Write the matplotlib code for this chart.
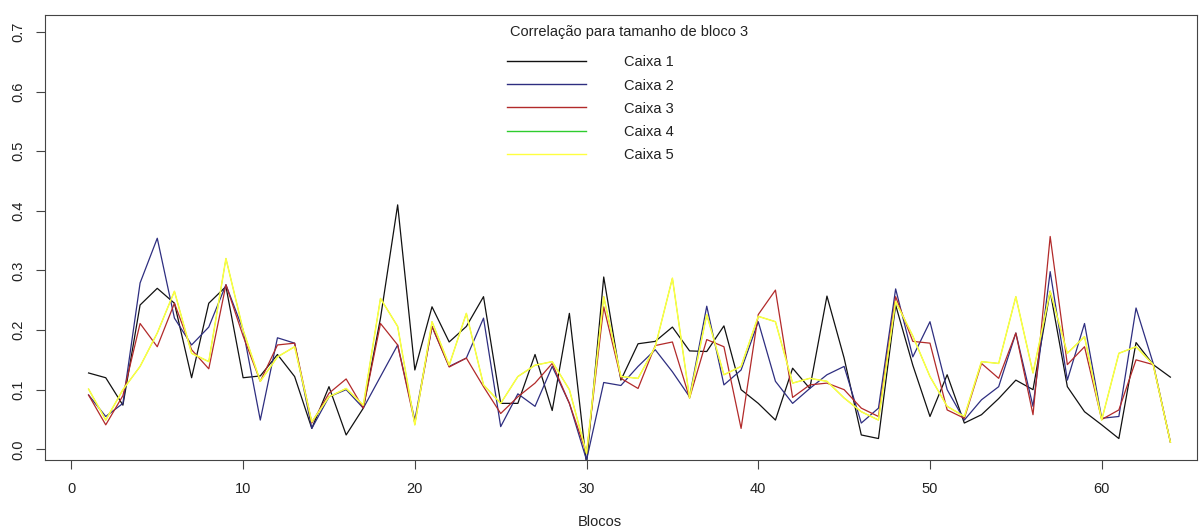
import matplotlib
matplotlib.use("Agg")
import matplotlib.pyplot as plt

plt.rcParams["font.family"] = ["Liberation Sans", "DejaVu Sans"]

blocos = list(range(1, 65))

caixa1 = [0.128, 0.120, 0.074, 0.242, 0.270, 0.245, 0.120, 0.245, 0.273, 0.120,
          0.123, 0.159, 0.122, 0.035, 0.105, 0.024, 0.069, 0.220, 0.410, 0.133,
          0.239, 0.180, 0.206, 0.256, 0.077, 0.077, 0.159, 0.065, 0.228, -0.025,
          0.289, 0.116, 0.177, 0.181, 0.205, 0.165, 0.164, 0.207, 0.100, 0.077,
          0.049, 0.136, 0.102, 0.257, 0.153, 0.024, 0.018, 0.242, 0.141, 0.055,
          0.125, 0.044, 0.058, 0.085, 0.116, 0.100, 0.265, 0.105, 0.063, 0.041,
          0.018, 0.179, 0.142, 0.121]

caixa2 = [0.091, 0.055, 0.077, 0.279, 0.354, 0.220, 0.175, 0.205, 0.276, 0.200,
          0.049, 0.187, 0.178, 0.035, 0.088, 0.100, 0.069, 0.122, 0.175, 0.049,
          0.206, 0.139, 0.153, 0.220, 0.038, 0.093, 0.072, 0.139, 0.077, -0.018,
          0.112, 0.107, 0.139, 0.167, 0.130, 0.088, 0.240, 0.108, 0.133, 0.214,
          0.114, 0.077, 0.102, 0.125, 0.139, 0.044, 0.069, 0.269, 0.155, 0.214,
          0.100, 0.049, 0.083, 0.105, 0.195, 0.072, 0.298, 0.116, 0.211, 0.052,
          0.055, 0.237, 0.144, 0.012]

caixa3 = [0.091, 0.041, 0.090, 0.211, 0.172, 0.245, 0.167, 0.135, 0.276, 0.190,
          0.114, 0.175, 0.178, 0.044, 0.094, 0.118, 0.069, 0.211, 0.175, 0.044,
          0.206, 0.138, 0.153, 0.105, 0.060, 0.088, 0.111, 0.144, 0.077, -0.007,
          0.239, 0.119, 0.102, 0.174, 0.180, 0.086, 0.184, 0.172, 0.035, 0.226,
          0.267, 0.087, 0.108, 0.111, 0.100, 0.069, 0.055, 0.256, 0.181, 0.178,
          0.066, 0.052, 0.144, 0.119, 0.195, 0.058, 0.357, 0.142, 0.172, 0.050,
          0.066, 0.150, 0.142, 0.012]

caixa5 = [0.101, 0.049, 0.100, 0.139, 0.195, 0.265, 0.161, 0.147, 0.320, 0.200,
          0.114, 0.155, 0.172, 0.046, 0.088, 0.102, 0.074, 0.253, 0.206, 0.041,
          0.214, 0.141, 0.228, 0.108, 0.077, 0.122, 0.141, 0.147, 0.100, -0.007,
          0.256, 0.122, 0.119, 0.172, 0.287, 0.086, 0.226, 0.125, 0.139, 0.223,
          0.214, 0.111, 0.119, 0.114, 0.086, 0.063, 0.049, 0.248, 0.190, 0.122,
          0.072, 0.055, 0.147, 0.144, 0.256, 0.128, 0.265, 0.161, 0.189, 0.049,
          0.161, 0.172, 0.142, 0.012]

# caixa 4 is not visible in the picture: it lies under caixa 5
caixa4 = list(caixa5)

series = [caixa1, caixa2, caixa3, caixa4, caixa5]
nomes = ["Caixa 1", "Caixa 2", "Caixa 3", "Caixa 4", "Caixa 5"]
cores = ["#111111", "#2e2e80", "#b22a2a", "#2ecc2e", "#ffff40"]
larguras = [0.9, 0.9, 0.9, 0.6, 1.1]

W, H = 1201, 532
fig = plt.figure(figsize=(W / 100, H / 100), dpi=100)
ax = fig.add_axes([45.3 / W, 1 - 460.3 / H, (1197 - 45.3) / W, (460.3 - 14.7) / H])

for y, nome, cor, lw in zip(series, nomes, cores, larguras):
    ax.plot(blocos, y, color=cor, lw=lw, label=nome)

ax.set_xlim(-1.52, 65.55)
ax.set_ylim(-0.0185, 0.729)
ax.set_xticks([0, 10, 20, 30, 40, 50, 60])
ax.set_yticks([0.0, 0.1, 0.2, 0.3, 0.4, 0.5, 0.6, 0.7])
ax.set_yticklabels(["0.0", "0.1", "0.2", "0.3", "0.4", "0.5", "0.6", "0.7"],
                   rotation=90, va="center")

for s in ax.spines.values():
    s.set_color("#444444")
    s.set_linewidth(0.8)
ax.tick_params(axis="both", colors="#444444", labelcolor="#222222",
               length=6.3, width=0.8, labelsize=10.5)
ax.tick_params(axis="x", pad=9.5)
ax.tick_params(axis="y", pad=8.4)

ax.set_xlabel("Blocos", fontsize=10.5, color="#222222")
ax.xaxis.set_label_coords((600 - 45.3) / (1197 - 45.3), (460.3 - 522) / 445.6)
ax.xaxis.label.set_va("center")

fig.text(629 / W, 1 - 32 / H, "Correlação para tamanho de bloco 3",
         ha="center", va="center", fontsize=10.5, color="#222222")
leg = ax.legend(loc="upper left", bbox_to_anchor=(507 / W, 1 - 55.5 / H),
                bbox_transform=fig.transFigure, frameon=False, fontsize=10.5,
                handlelength=5.4, handletextpad=2.6, labelspacing=0.62,
                borderpad=0, borderaxespad=0)
for t in leg.get_texts():
    t.set_color("#222222")
for h, lw in zip(leg.get_lines(), larguras):
    h.set_linewidth(1.0)

fig.savefig("out.png", dpi=100)
